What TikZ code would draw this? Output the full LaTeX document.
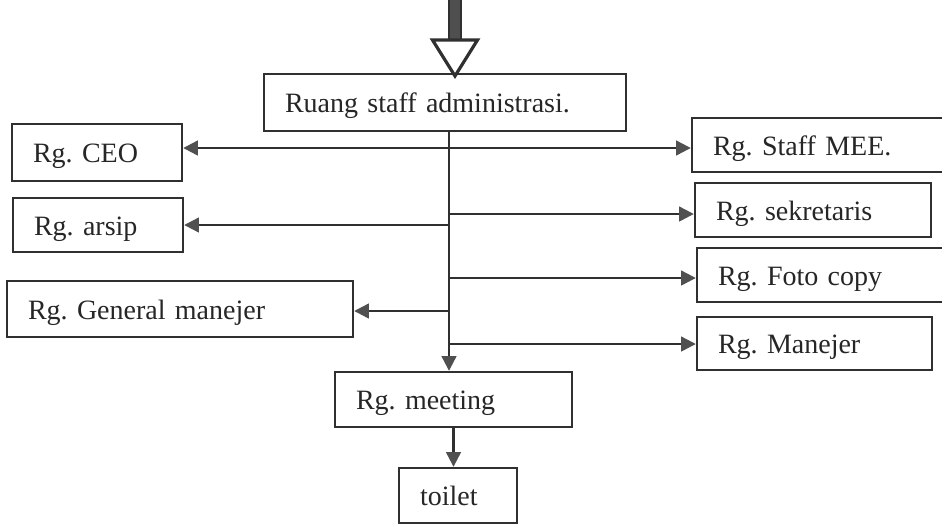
\documentclass[tikz,border=0pt]{standalone}
\usepackage{fontspec}
\setmainfont{Liberation Serif}
\usetikzlibrary{arrows.meta}
\definecolor{ink}{RGB}{48,48,48}
\definecolor{tip}{RGB}{80,80,80}
\begin{document}
\frenchspacing
\begin{tikzpicture}[x=0.75pt,y=-0.75pt,
  room/.style={draw=ink, line width=1.8pt, fill=white, align=left,
    inner xsep=15.75pt, inner ysep=0pt, text height=18pt, text depth=3pt,
    font=\fontsize{21pt}{24pt}\selectfont\frenchspacing, text=black!85},
  conn/.style={draw=ink, line width=1.7pt,
    -{Triangle[length=11pt,width=11pt,color=tip,fill=tip]}},
  both/.style={draw=ink, line width=1.7pt,
    {Triangle[length=11pt,width=11pt,color=tip,fill=tip]}-{Triangle[length=11pt,width=11pt,color=tip,fill=tip]}}]
\useasboundingbox (0,0) rectangle (942,526);

% rooms
\node[room, minimum height=42.75pt, text width=240pt]    (main)    at (445,102.5) {Ruang staff administrasi.};
\node[room, minimum height=42.75pt, text width=96pt]     (ceo)     at (97,152.5)  {Rg. CEO};
\node[room, minimum height=40.5pt,  text width=96pt]     (arsip)   at (98,225)    {Rg. arsip};
\node[room, minimum height=42pt,    text width=228pt]    (gm)      at (180,309)   {Rg. General manejer};
\node[room, minimum height=40.5pt,  text width=160.5pt]  (mee)     at (820,145)   {Rg. Staff MEE.};
\node[room, minimum height=40.5pt,  text width=145.5pt]  (sek)     at (813,210)   {Rg. sekretaris};
\node[room, minimum height=40.5pt,  text width=156.75pt] (foto)    at (822.5,275) {Rg. Foto copy};
\node[room, minimum height=39.75pt, text width=144.75pt] (man)     at (814.5,343.5) {Rg. Manejer};
\node[room, minimum height=41.25pt, text width=146.25pt] (meeting) at (453.5,399.5) {Rg. meeting};
\node[room, minimum height=41.25pt, text width=57pt]     (toilet)  at (458,495.5) {toilet};

% entrance arrow
\coordinate (entry) at (455,76);
\fill[ink!85] (449,-2) rectangle (461,40);
\draw[ink, line width=1.6pt] (449,-2) -- (449,40) (461,-2) -- (461,40);
\draw[ink, line width=2.4pt, line join=miter, fill=white] (432.5,40) -- (477.5,40) -- (entry) -- cycle;

% junctions on the main corridor
\coordinate (jceo)  at (449,148);
\coordinate (jsek)  at (449,214);
\coordinate (jars)  at (449,225);
\coordinate (jfoto) at (449,278);
\coordinate (jgm)   at (449,311);
\coordinate (jman)  at (449,344);

% main corridor
\draw[conn] (main.south -| jceo) -- (meeting.north -| jceo);

% branches
\draw[both] (jceo -| ceo.east) -- (jceo -| mee.west);
\draw[conn] (jsek) -- (jsek -| sek.west);
\draw[conn] (jars) -- (jars -| arsip.east);
\draw[conn] (jfoto) -- (jfoto -| foto.west);
\draw[conn] (jgm) -- (jgm -| gm.east);
\draw[conn] (jman) -- (jman -| man.west);
\draw[conn] (meeting.south) -- (meeting.south |- toilet.north);
\end{tikzpicture}
\end{document}
